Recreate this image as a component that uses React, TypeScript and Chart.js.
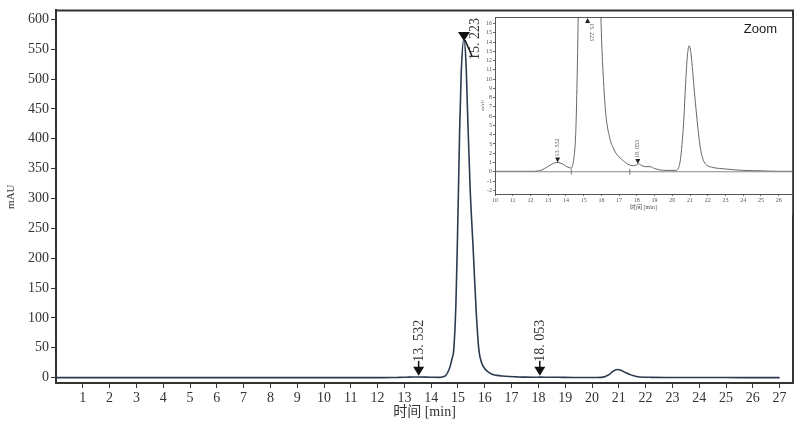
import React, { useEffect, useRef } from "react";
import { Chart, registerables } from "chart.js";

Chart.register(...registerables);

// ---- data ----
const retentionTime = [
  0, 5, 10, 12.0, 12.5, 12.8, 13.1, 13.35, 13.55, 13.8, 14.05, 14.3, 14.45, 14.55, 14.62, 14.7, 14.78,
  14.84, 14.92, 14.97, 15.02, 15.06, 15.12, 15.223, 15.3, 15.36, 15.45, 15.57, 15.68, 15.78, 15.88, 16.0,
  16.1, 16.25, 16.45, 16.66, 16.9, 17.2, 17.5, 17.8, 18.0, 18.1, 18.3, 18.5, 18.75, 19.0, 19.3, 19.7,
  20.2, 20.35, 20.47, 20.57, 20.66, 20.75, 20.85, 20.95, 21.05, 21.15, 21.25, 21.35, 21.45, 21.55, 21.65,
  21.78, 21.95, 22.2, 23.0, 24.0, 25.0, 26.0, 27.0,
];
const signal = [
  0, 0, 0.05, 0.05, 0.1, 0.35, 0.7, 0.95, 1.0, 0.85, 0.55, 0.4, 1.5, 4, 9, 18, 32,
  46, 120, 212, 320, 412, 510, 568, 525, 440, 320, 212, 110, 46, 25, 15,
  10.5, 6.2, 3.8, 2.6, 1.8, 1.25, 0.8, 0.65, 0.75, 0.85, 0.65, 0.55, 0.55, 0.35, 0.2, 0.15,
  0.15, 0.4, 1.5, 3.5, 6, 9.5, 12.5, 13.6, 12.8, 10.8, 8.5, 6.5, 4.6, 3.0, 1.9,
  1.1, 0.7, 0.5, 0.3, 0.15, 0.1, 0.05, 0.05,
];

const mainXTicks = [1, 2, 3, 4, 5, 6, 7, 8, 9, 10, 11, 12, 13, 14, 15, 16, 17, 18, 19, 20, 21, 22, 23, 24, 25, 26, 27];
const mainYTicks = [0, 50, 100, 150, 200, 250, 300, 350, 400, 450, 500, 550, 600];
const zoomXTicks = [10, 11, 12, 13, 14, 15, 16, 17, 18, 19, 20, 21, 22, 23, 24, 25, 26];
const zoomYTicks = [-2, -1, 0, 1, 2, 3, 4, 5, 6, 7, 8, 9, 10, 11, 12, 13, 14, 15, 16];

const peakTimes = [13.532, 15.223, 18.053];
const peakLabels = ["13. 532", "15. 223", "18. 053"];
const mainMarkerValues = [3, 567, 3];
const zoomMarkerValues = [1.0, 16.4, 0.85];

const zoomBaselineTimes = [10, 26.7];
const zoomBaselineValues = [0, 0];
const baselineCutTimes = [14.3, 17.6];

const xLabel = "时间 [min]";
const yLabel = "mAU";
const zoomTitle = "Zoom";

const SERIF = "'Liberation Serif', 'DejaVu Serif', serif";
const CJK = "'Liberation Serif', 'Noto Sans CJK SC', serif";

function downTriangle(ctx: CanvasRenderingContext2D, x: number, y: number, w: number, h: number) {
  ctx.beginPath();
  ctx.moveTo(x, y);
  ctx.lineTo(x - w / 2, y - h);
  ctx.lineTo(x + w / 2, y - h);
  ctx.closePath();
  ctx.fill();
}
function upTriangle(ctx: CanvasRenderingContext2D, x: number, y: number, w: number, h: number) {
  ctx.beginPath();
  ctx.moveTo(x, y);
  ctx.lineTo(x - w / 2, y + h);
  ctx.lineTo(x + w / 2, y + h);
  ctx.closePath();
  ctx.fill();
}

const mainPlugin = {
  id: "mainDecor",
  afterDatasetsDraw(chart: any) {
    const { ctx, chartArea, scales } = chart;
    const xs = scales.x;
    const ys = scales.y;
    ctx.save();
    // top & right frame
    ctx.strokeStyle = "#333";
    ctx.lineWidth = 2;
    ctx.beginPath();
    ctx.moveTo(chartArea.left - 1, chartArea.top);
    ctx.lineTo(chartArea.right, chartArea.top);
    ctx.lineTo(chartArea.right, chartArea.bottom + 1);
    ctx.stroke();

    ctx.fillStyle = "#111";
    ctx.strokeStyle = "#111";
    ctx.lineWidth = 1.5;
    ctx.font = `14px ${SERIF}`;
    peakTimes.forEach((t, i) => {
      const x = xs.getPixelForValue(t);
      const y = ys.getPixelForValue(mainMarkerValues[i]);
      if (i === 1) {
        downTriangle(ctx, x, y + 2, 12, 9);
        ctx.beginPath();
        ctx.moveTo(x + 1, y + 1);
        ctx.lineTo(x + 8, y + 17);
        ctx.stroke();
        ctx.save();
        ctx.translate(x + 11, y + 21);
        ctx.rotate(-Math.PI / 2);
        ctx.textAlign = "left";
        ctx.textBaseline = "middle";
        ctx.fillStyle = "#333";
        ctx.fillText(peakLabels[i], 0, 0);
        ctx.restore();
      } else {
        downTriangle(ctx, x, y, 11, 9);
        ctx.beginPath();
        ctx.moveTo(x, y - 8);
        ctx.lineTo(x, y - 15);
        ctx.stroke();
        ctx.save();
        ctx.translate(x + 1, y - 14);
        ctx.rotate(-Math.PI / 2);
        ctx.textAlign = "left";
        ctx.textBaseline = "middle";
        ctx.fillStyle = "#333";
        ctx.fillText(peakLabels[i], 0, 0);
        ctx.restore();
      }
    });
    ctx.restore();
  },
};

const zoomPlugin = {
  id: "zoomDecor",
  afterDatasetsDraw(chart: any) {
    const { ctx, chartArea, scales } = chart;
    const xs = scales.x;
    const ys = scales.y;
    ctx.save();
    ctx.strokeStyle = "#555";
    ctx.lineWidth = 1;
    ctx.strokeRect(chartArea.left + 0.5, chartArea.top + 0.5, chartArea.right - chartArea.left, chartArea.bottom - chartArea.top);
    ctx.beginPath();
    ctx.moveTo(chartArea.right + 0.5, chartArea.bottom);
    ctx.lineTo(chartArea.right + 0.5, chart.height - 2);
    ctx.stroke();

    // integration cut marks
    ctx.strokeStyle = "#777";
    baselineCutTimes.forEach((t) => {
      const x = xs.getPixelForValue(t);
      const y = ys.getPixelForValue(0);
      ctx.beginPath();
      ctx.moveTo(x, y - 3);
      ctx.lineTo(x, y + 3);
      ctx.stroke();
    });

    ctx.fillStyle = "#222";
    ctx.font = `6px ${SERIF}`;
    peakTimes.forEach((t, i) => {
      const x = xs.getPixelForValue(t);
      if (i === 1) {
        const y = chartArea.top + 1;
        upTriangle(ctx, x, y, 5, 5);
        ctx.save();
        ctx.translate(x + 4, y + 5);
        ctx.rotate(Math.PI / 2);
        ctx.textAlign = "left";
        ctx.textBaseline = "middle";
        ctx.fillStyle = "#555";
        ctx.fillText(peakLabels[i], 0, 0);
        ctx.restore();
      } else {
        const y = ys.getPixelForValue(zoomMarkerValues[i]);
        downTriangle(ctx, x, y, 5, 5);
        ctx.save();
        ctx.translate(x, y - 6);
        ctx.rotate(-Math.PI / 2);
        ctx.textAlign = "left";
        ctx.textBaseline = "middle";
        ctx.fillStyle = "#555";
        ctx.fillText(peakLabels[i], 0, 0);
        ctx.restore();
      }
    });

    ctx.fillStyle = "#1a1a1a";
    ctx.font = "13px 'Liberation Sans', 'DejaVu Sans', sans-serif";
    ctx.textAlign = "right";
    ctx.textBaseline = "middle";
    ctx.fillText(zoomTitle, chartArea.right - 15, chartArea.top + 12);
    ctx.restore();
  },
};

export default function App() {
  const mainRef = useRef<HTMLCanvasElement>(null);
  const zoomRef = useRef<HTMLCanvasElement>(null);

  useEffect(() => {
    const points = retentionTime.map((t, i) => ({ x: t, y: signal[i] }));
    const main = new Chart(mainRef.current as HTMLCanvasElement, {
      type: "line",
      data: {
        datasets: [
          {
            data: points,
            borderColor: "#2c3a4f",
            borderWidth: 1.6,
            pointRadius: 0,
            cubicInterpolationMode: "monotone",
            fill: false,
          },
        ],
      },
      options: {
        animation: false,
        responsive: false,
        maintainAspectRatio: false,
        layout: { padding: { top: 8, right: 7, left: 0, bottom: 0 } },
        plugins: { legend: { display: false }, tooltip: { enabled: false } },
        scales: {
          x: {
            type: "linear",
            min: 0,
            max: 27.5,
            afterFit: (s: any) => {
              s.height = 44;
            },
            afterBuildTicks: (s: any) => {
              s.ticks = mainXTicks.map((v) => ({ value: v }));
            },
            ticks: {
              font: { family: SERIF, size: 14 },
              color: "#333",
              padding: 2,
              maxRotation: 0,
              autoSkip: false,
              callback: (v: any) => String(v),
            },
            grid: { display: true, drawOnChartArea: false, drawTicks: true, tickLength: 5, color: "#333", lineWidth: 1 },
            border: { display: true, color: "#333", width: 2 },
            title: {
              display: true,
              text: xLabel,
              font: { family: CJK, size: 14 },
              color: "#333",
              padding: { top: 0, bottom: 6 },
            },
          },
          y: {
            type: "linear",
            min: -9,
            max: 615,
            afterFit: (s: any) => {
              s.width = 56;
            },
            afterBuildTicks: (s: any) => {
              s.ticks = mainYTicks.map((v) => ({ value: v }));
            },
            ticks: {
              font: { family: SERIF, size: 14 },
              color: "#333",
              padding: 2,
              autoSkip: false,
              callback: (v: any) => String(v),
            },
            grid: { display: true, drawOnChartArea: false, drawTicks: true, tickLength: 5, color: "#333", lineWidth: 1 },
            border: { display: true, color: "#333", width: 2 },
            title: {
              display: true,
              text: yLabel,
              font: { family: SERIF, size: 11 },
              color: "#333",
              padding: { top: 5, bottom: 0 },
            },
          },
        },
      },
      plugins: [mainPlugin],
    } as any);

    const zoom = new Chart(zoomRef.current as HTMLCanvasElement, {
      type: "line",
      data: {
        datasets: [
          {
            data: zoomBaselineTimes.map((t, i) => ({ x: t, y: zoomBaselineValues[i] })),
            borderColor: "#888",
            borderWidth: 1,
            pointRadius: 0,
            fill: false,
          },
          {
            data: points,
            borderColor: "#666",
            borderWidth: 1,
            pointRadius: 0,
            cubicInterpolationMode: "monotone",
            fill: false,
          },
        ],
      },
      options: {
        animation: false,
        responsive: false,
        maintainAspectRatio: false,
        layout: { padding: { top: 5, right: 3, left: 0, bottom: 0 } },
        plugins: { legend: { display: false }, tooltip: { enabled: false } },
        scales: {
          x: {
            type: "linear",
            min: 10,
            max: 26.75,
            afterFit: (s: any) => {
              s.height = 23;
            },
            afterBuildTicks: (s: any) => {
              s.ticks = zoomXTicks.map((v) => ({ value: v }));
            },
            ticks: {
              font: { family: SERIF, size: 6 },
              color: "#555",
              padding: 1,
              maxRotation: 0,
              autoSkip: false,
              callback: (v: any) => String(v),
            },
            grid: { display: true, drawOnChartArea: false, drawTicks: true, tickLength: 2, color: "#666", lineWidth: 1 },
            border: { display: false },
            title: {
              display: true,
              text: xLabel,
              font: { family: CJK, size: 6 },
              color: "#555",
              padding: { top: 0, bottom: 6 },
            },
          },
          y: {
            type: "linear",
            min: -2.4,
            max: 16.7,
            afterFit: (s: any) => {
              s.width = 25;
            },
            afterBuildTicks: (s: any) => {
              s.ticks = zoomYTicks.map((v) => ({ value: v }));
            },
            ticks: {
              font: { family: SERIF, size: 6 },
              color: "#555",
              padding: 1,
              autoSkip: false,
              callback: (v: any) => String(v),
            },
            grid: { display: true, drawOnChartArea: false, drawTicks: true, tickLength: 2, color: "#666", lineWidth: 1 },
            border: { display: false },
            title: {
              display: true,
              text: yLabel,
              font: { family: SERIF, size: 5 },
              color: "#555",
              padding: { top: 10, bottom: 0 },
            },
          },
        },
      },
      plugins: [zoomPlugin],
    } as any);

    return () => {
      main.destroy();
      zoom.destroy();
    };
  }, []);

  return (
    <div style={{ position: "absolute", left: 0, top: 0, width: 800, height: 427, background: "#fff" }}>
      <canvas ref={mainRef} width={800} height={427} style={{ position: "absolute", left: 0, top: 0 }} />
      <canvas ref={zoomRef} width={325} height={205} style={{ position: "absolute", left: 470, top: 12 }} />
    </div>
  );
}
